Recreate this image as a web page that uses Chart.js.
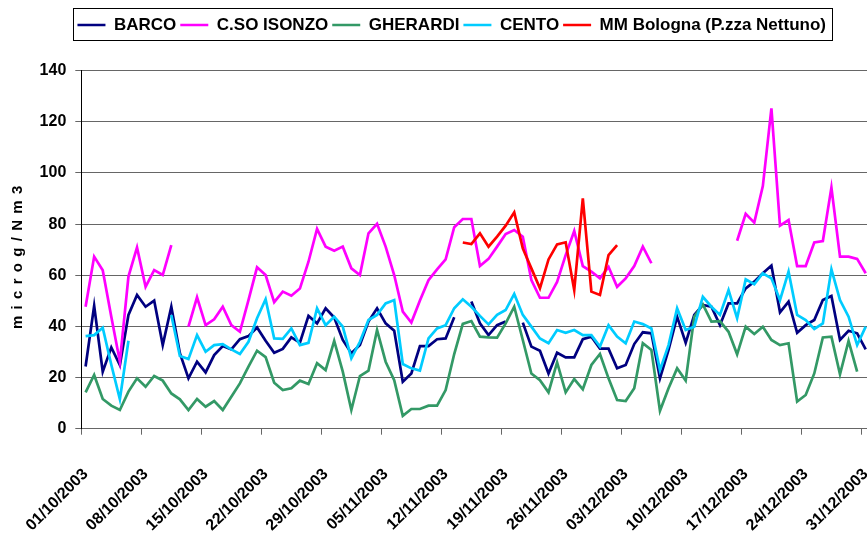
<!DOCTYPE html>
<html>
<head>
<meta charset="utf-8">
<script src="https://cdn.jsdelivr.net/npm/chart.js@4.4.0/dist/chart.umd.min.js"></script>
<style>
  html, body { margin: 0; padding: 0; background: #fff; overflow: hidden; }
</style>
</head>
<body>
<canvas id="grafico" width="870" height="540"></canvas>
<script>
// giorni dal 01/10/2003 al 31/12/2003
const giorni = [];
for (let m = 10; m <= 12; m++) {
  const n = m === 11 ? 30 : 31;
  for (let d = 1; d <= n; d++) giorni.push(String(d).padStart(2, '0') + '/' + m + '/2003');
}

const barco = [24.3, 48.1, 22.3, 31.8, 24.9, 44.5, 52.3, 47.7, 50.1, 32.7, 47.7,
  29.5, 19.7, 26.2, 22, 28.8, 32.3, 31, 35, 36.2, 39.6,
  34.4, 29.7, 31.2, 35.7, 33.6, 44.1, 41.2, 47.1, 43.5, 34.7,
  29.5, 32.7, 41.9, 47.1, 41.2, 38.3, 18.4, 21.6, 32.3, 32.3,
  35, 35.3, 43.6, null, 49.7, 41.2, 36.6, 40.5, 41.9, null,
  41.5, 32.1, 30.5, 21.6, 29.7, 27.9, 27.9, 35, 36, 31.3,
  31.3, 23.6, 24.9, 33.1, 37.7, 37.3, 19.7, 30.8, 43.8, 33.6,
  44.5, 48.4, 47.7, 40.5, 49, 49, 54.9, 57.5, 60.8, 63.8,
  45.5, 49.7, 37.5, 40.5, 42.5, 50.3, 51.9, 34.7, 38.3, 37.3, 31];

const isonzo = [47.7, 67.3, 62, 43.8, 26.2, 59.5, 70.9, 55.5, 62, 60.1, 71.8,
  null, 39.9, 51.4, 40.5, 42.8, 47.7, 40.5, 37.9, 50.3, 63.1,
  60.1, 49.5, 53.6, 52, 54.8, 65.3, 78.1, 71.2, 69.6, 71.2,
  62.7, 60.1, 76.4, 80.1, 71.2, 60.1, 45.8, 41.5, 50.1, 58.1,
  62.3, 66.2, 78.8, 82, 82, 63.6, 66.4, 71.2, 76.1, 77.7,
  75.1, 58.1, 51.2, 51.2, 57.4, 67.9, 77.3, 63.6, 61.4, 58.8,
  63.3, 55.5, 58.8, 63.6, 71.2, 64.7,
  null, null, null, null, null, null, null, null, null,
  73.5, 84, 80.6, 94.9, 125.3, 79.4, 81.6, 63.6, 63.6, 72.8,
  73.4, 94.3, 67.3, 67.3, 66.4, 60.8];

const gherardi = [14.2, 21, 11.6, 9, 7.3, 14.5, 19.7, 16.4, 20.6, 18.8, 13.8,
  11.5, 7.3, 11.6, 8.6, 10.8, 7.3, 12.5, 17.7, 24.3, 30.5,
  28, 18, 15.1, 15.8, 18.8, 17.5, 25.6, 22.9, 34.3, 22.3,
  7.3, 20.6, 22.7, 38.6, 26.2, 19, 5, 7.7, 7.7, 9,
  9, 15.1, 29.2, 41, 42.1, 36, 35.7, 35.6, 41.2, 47.7,
  34.7, 21.6, 19, 14.2, 25.9, 14.2, 19.4, 15.4, 24.9, 29.2,
  19.7, 11.2, 10.8, 15.8, 33.4, 30.8, 7, 15.8, 23.6, 18.8,
  43.8, 48.6, 41.9, 42.1, 37.9, 29.1, 39.9, 37, 39.9, 34.7,
  32.7, 33.4, 10.6, 13.2, 21.6, 35.7, 36, 21.3, 34.3, 22.3, null];

const cento = [36.2, 36.6, 39.5, 25, 11.5, 34.4, null, null, null, null,
  44.5, 28.4, 27.2, 36.6, 30.1, 32.7, 33.1, 31, 29.2, 34, 43.2,
  50.6, 35.3, 35.1, 39.2, 32.7, 33.6, 47.1, 40.5, 43.8, 39.9,
  27.5, 34, 42.5, 44.5, 49, 50.3, 25.3, 23.6, 22.7, 35.3,
  39.2, 40.5, 47.1, 50.6, 47.7, 44.1, 40.8, 44.5, 46.4, 52.7,
  44.5, 39.9, 35.3, 33.4, 38.6, 37.5, 38.6, 36.6, 36.6, 32.1,
  40.5, 36, 33.4, 41.9, 40.9, 39.2, 22.9, 32.7, 47.1, 38.6,
  39.9, 51.6, 47.7, 44.5, 54.2, 43.2, 58.4, 56.5, 60.8, 58.8,
  50.3, 61.4, 44.5, 42.5, 39, 41.2, 62.3, 50.3, 43.8, 32.7, 39.9];

// MM Bologna: misure dal 14/11 al 02/12
const nettunoInizio = 44;
const nettuno = [72.8, 72.2, 76.4, 71.2, 75.1, 79.4, 84.6, 70.5, 62.7, 54.9,
  66.2, 72.1, 72.9, 54.2, 90.1, 53.6, 52.3, 67.9, 71.8];

function allinea(inizio, valori) {
  const out = giorni.map(() => null);
  valori.forEach((v, i) => { out[inizio + i] = v; });
  return out;
}

Chart.defaults.font.family = '"Liberation Sans", Arial, sans-serif';
Chart.defaults.font.weight = 'bold';
Chart.defaults.color = '#000';

// spazio sotto la legenda
const spazioLegenda = {
  id: 'spazioLegenda',
  beforeInit(chart) {
    const fitOrig = chart.legend.fit;
    chart.legend.fit = function fit() {
      fitOrig.bind(chart.legend)();
      this.height += 27.2;
    };
  }
};

// cornice della legenda
const cornice = {
  id: 'cornice',
  afterDraw(chart) {
    const boxes = chart.legend.legendHitBoxes;
    if (!boxes || !boxes.length) return;
    const first = boxes[0], last = boxes[boxes.length - 1];
    const cy = first.top + first.height / 2;
    const ctx = chart.ctx;
    ctx.save();
    ctx.strokeStyle = '#000';
    ctx.lineWidth = 1;
    const x0 = Math.round(first.left - 4.5) + 0.5;
    const x1 = Math.round(last.left + last.width + 6.3) + 0.5;
    ctx.strokeRect(x0, Math.round(cy - 16.7) + 0.5, x1 - x0, 32);
    ctx.restore();
  }
};

// titolo asse y
const titoloY = {
  id: 'titoloY',
  afterDraw(chart) {
    const { ctx, chartArea } = chart;
    ctx.save();
    ctx.translate(17.5, (chartArea.top + chartArea.bottom) / 2 + 4.5);
    ctx.rotate(-Math.PI / 2);
    ctx.font = 'bold 15px "Liberation Sans", Arial, sans-serif';
    ctx.letterSpacing = '6.3px';
    ctx.fillStyle = '#000';
    ctx.textAlign = 'center';
    ctx.textBaseline = 'middle';
    ctx.fillText('microg/Nm3', 0, 0);
    ctx.restore();
  }
};

const serie = (label, data, colore, ordine) => ({
  label, data,
  borderColor: colore,
  backgroundColor: colore,
  borderWidth: 2.7,
  pointRadius: 0,
  tension: 0,
  spanGaps: false,
  order: ordine
});

new Chart(document.getElementById('grafico'), {
  type: 'line',
  data: {
    labels: giorni,
    datasets: [
      serie('BARCO', barco, '#000080', 5),
      serie('C.SO ISONZO', isonzo, '#FF00FF', 4),
      serie('GHERARDI', gherardi, '#339966', 3),
      serie('CENTO', cento, '#00CCFF', 2),
      serie('MM Bologna (P.zza Nettuno)', allinea(nettunoInizio, nettuno), '#FF0000', 1)
    ]
  },
  options: {
    responsive: false,
    animation: false,
    layout: { padding: { left: 33.4, top: 12.5, right: 0, bottom: 0 } },
    plugins: {
      legend: {
        position: 'top',
        labels: {
          usePointStyle: true,
          pointStyle: 'line',
          pointStyleWidth: 28,
          padding: 4,
          color: '#000',
          font: { size: 17, weight: 'bold' },
          sort: (a, b) => a.datasetIndex - b.datasetIndex
        }
      },
      tooltip: { enabled: false }
    },
    scales: {
      x: {
        offset: true,
        grid: {
          offset: true,
          drawOnChartArea: false,
          tickLength: 6,
          color: ctx => (ctx.index % 7 === 0 ? '#666' : 'rgba(0,0,0,0)')
        },
        border: { color: '#666' },
        ticks: {
          autoSkip: false,
          minRotation: 45,
          maxRotation: 45,
          padding: 30,
          color: '#000',
          font: { size: 16, weight: 'bold' },
          callback: function (v, i) { return i % 7 === 0 ? this.getLabelForValue(v) : ''; }
        },
        afterFit: s => { s.height = 111.3; s.paddingLeft = 0; s.paddingRight = 0; }
      },
      y: {
        min: 0,
        max: 140,
        ticks: { stepSize: 20, padding: 9, color: '#000', font: { size: 16, weight: 'bold' } },
        grid: { color: '#666', tickLength: 6 },
        border: { color: '#000' },
        afterFit: s => { s.width = 47.9; }
      }
    }
  },
  plugins: [spazioLegenda, cornice, titoloY]
});
</script>
</body>
</html>
